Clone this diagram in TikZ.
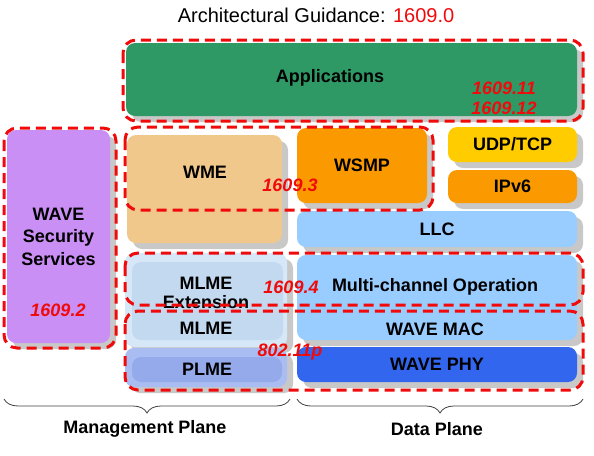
\documentclass[tikz,border=0pt]{standalone}
\usepackage{fontspec}
\setmainfont{Liberation Sans}
\usetikzlibrary{shadows,decorations.pathreplacing}
\definecolor{appgreen}{HTML}{2F9966}
\definecolor{wsspurple}{HTML}{C98FF5}
\definecolor{wmetan}{HTML}{F0C88C}
\definecolor{orng}{HTML}{FA9A00}
\definecolor{yllw}{HTML}{FFCC00}
\definecolor{ltblue}{HTML}{99CCFF}
\definecolor{phyblue}{HTML}{3366EE}
\definecolor{mlmeout}{HTML}{D6E8F8}
\definecolor{mlmein}{HTML}{C3D9EF}
\definecolor{plmeout}{HTML}{A9BDF2}
\definecolor{plmein}{HTML}{94AAEA}
\definecolor{shd}{HTML}{C8C8C8}
\definecolor{rd}{HTML}{F00A0A}
\begin{document}
\begin{tikzpicture}[x=1pt,y=-1pt,
  blk/.style={rounded corners=9pt, inner sep=0pt, align=center,
    font=\bfseries\fontsize{18}{22.5}\selectfont,
    general shadow={fill=shd,shadow xshift=6pt,shadow yshift=-6pt}},
  flat/.style={rounded corners=9pt, inner sep=0pt, align=center,
    font=\bfseries\fontsize{18}{22.5}\selectfont},
  txt/.style={inner sep=0pt, font=\bfseries\fontsize{18}{22}\selectfont, align=center},
  rlab/.style={inner sep=0pt, text=rd, font=\bfseries\itshape\fontsize{18}{21}\selectfont},
  rdash/.style={draw=rd, line width=3pt, dash pattern=on 10pt off 6pt, rounded corners=13pt},
  brc/.style={decorate, decoration={brace, mirror, amplitude=14pt}, line width=0.8pt, draw=black!75}
]
\useasboundingbox (0,0) rectangle (594,455);

% title
\node[inner sep=0pt, font=\fontsize{20}{24}\selectfont] (title) at (316,15)
  {Architectural Guidance: \textcolor{rd}{1609.0}};

% boxes
\node[blk, fill=appgreen, minimum width=451pt, minimum height=73pt] (app) at (351.5,79.5) {};
\node[txt] (apptxt) at (330,78) {Applications};

\node[blk, fill=wsspurple, minimum width=103pt, minimum height=213pt] (wss) at (58.5,236.5)
  {WAVE\\Security\\Services};

\node[blk, fill=wmetan, minimum width=155pt, minimum height=108pt] (wme) at (204.5,189) {};
\node[txt] (wmetxt) at (205,172) {WME};

\node[blk, fill=orng, minimum width=130pt, minimum height=75pt] (wsmp) at (362,165.5) {WSMP};
\node[blk, fill=yllw, minimum width=129pt, minimum height=35pt] (udp) at (512.5,144.5) {UDP/TCP};
\node[blk, fill=orng, minimum width=129pt, minimum height=33pt] (ipv6) at (512.5,186.5) {IPv6};
\node[blk, fill=ltblue, minimum width=280pt, minimum height=36pt] (llc) at (437,229) {LLC};

\node[blk, fill=mlmeout, minimum width=162pt, minimum height=94pt] (mlmeo) at (206,300) {};
\node[flat, fill=mlmein, minimum width=151pt, minimum height=78pt] (mlmei) at (207.5,301) {};
\node[txt] (mlmeext) at (206,283) {MLME};
\node[txt] (exttxt) at (206,302) {Extension};
\node[txt] (mlmetxt) at (206,328) {MLME};

\node[blk, fill=plmeout, minimum width=162pt, minimum height=39pt] (plmeo) at (206,367.5) {};
\node[flat, fill=plmein, minimum width=150pt, minimum height=25pt] (plmei) at (207,369.5) {PLME};

\node[blk, fill=ltblue, minimum width=280pt, minimum height=85pt] (mco) at (437,297.5) {};
\node[txt] (mcotxt) at (435,287) {Multi-channel Operation};
\node[txt] (mactxt) at (435,329) {WAVE MAC};

\node[blk, fill=phyblue, minimum width=280pt, minimum height=35pt] (phy) at (437,364.5) {WAVE PHY};

% red dashed groupings
\draw[rdash] (123,40) rectangle (583,121);
\draw[rdash] (4,128) rectangle (116,348);
\draw[rdash] (125,127) rectangle (433,210);
\draw[rdash] (125,253) rectangle (583,305);
\draw[rdash] (125,311) rectangle (583,390);

% red labels
\node[rlab] (l11) at (504,88) {1609.11};
\node[rlab] (l12) at (504,108) {1609.12};
\node[rlab] (l2) at (58,310) {1609.2};
\node[rlab] (l3) at (290,185) {1609.3};
\node[rlab] (l4) at (291,287) {1609.4};
\node[rlab] (l80) at (290,352) {802.11p};

% braces
\coordinate (mb1) at (4,399);
\coordinate (mb2) at (290,399);
\coordinate (db1) at (297,399);
\coordinate (db2) at (583,399);
\draw[brc] (mb1) -- (mb2);
\draw[brc] (db1) -- (db2);
\node[txt] (mgmt) at (145,429) {Management Plane};
\node[txt] (data) at (437,429) {Data Plane};
\end{tikzpicture}
\end{document}
